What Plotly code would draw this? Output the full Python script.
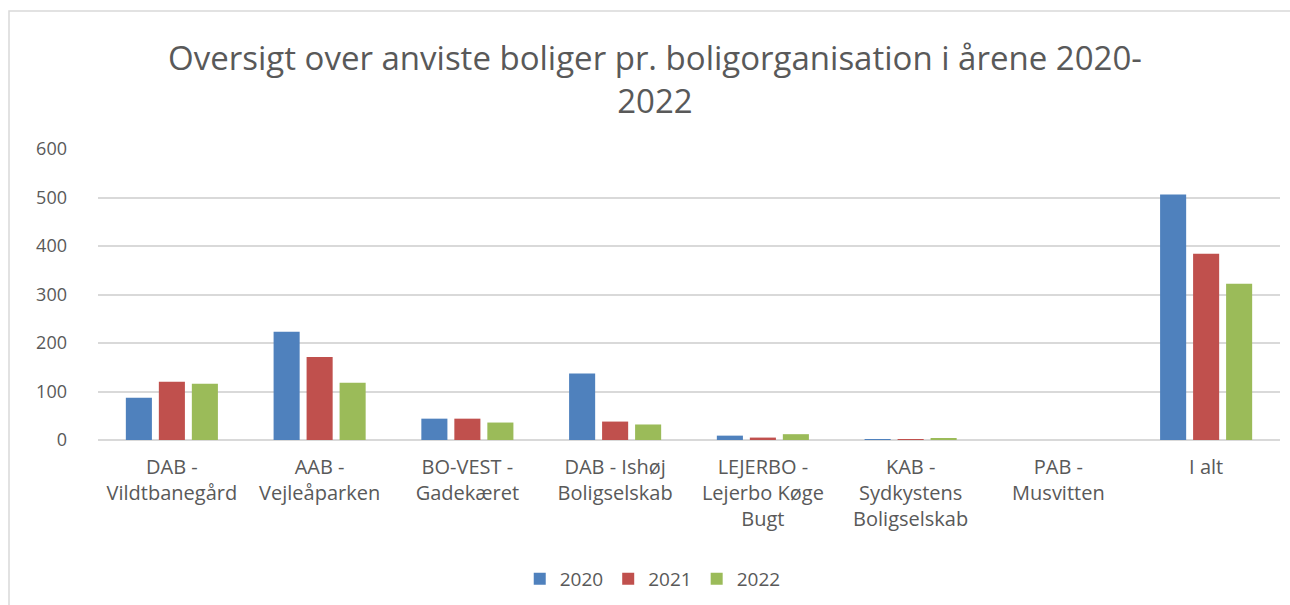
import plotly.graph_objects as go

categories = [
    "DAB -<br>Vildtbanegård",
    "AAB -<br>Vejleåparken",
    "BO-VEST -<br>Gadekæret",
    "DAB - Ishøj<br>Boligselskab",
    "LEJERBO -<br>Lejerbo Køge<br>Bugt",
    "KAB -<br>Sydkystens<br>Boligselskab",
    "PAB -<br>Musvitten",
    "I alt",
]
values_2020 = [87, 223, 44, 137, 9, 2, 0, 506]
values_2021 = [120, 171, 44, 38, 5, 2, 0, 384]
values_2022 = [116, 118, 36, 32, 12, 4, 0, 322]
series_names = ["2020", "2021", "2022"]
colors = ["#4F81BD", "#C0504D", "#9BBB59"]
y_ticks = [0, 100, 200, 300, 400, 500, 600]

FONT = "Open Sans"
GRAY = "#595959"

W, H = 1290, 605
L, R, T, B = 98, 10, 149, 165

fig = go.Figure()
for name, vals, col in zip(series_names, [values_2020, values_2021, values_2022], colors):
    fig.add_trace(go.Bar(x=categories, y=vals, name=name, marker=dict(color=col, line=dict(width=0))))

pw = W - L - R
ph = H - T - B
fig.update_layout(
    width=W, height=H,
    margin=dict(l=L, r=R, t=T, b=B, autoexpand=False),
    paper_bgcolor="white", plot_bgcolor="white",
    barmode="group", bargap=0.33, bargroupgap=0.21,
    font=dict(family=FONT, color=GRAY),
    title=dict(
        text="Oversigt over anviste boliger pr. boligorganisation i årene 2020-<br>2022",
        x=655 / W, xanchor="center", xref="container",
        y=1 - 70 / H, yanchor="middle", yref="container",
        font=dict(family=FONT, size=33, color=GRAY),
    ),
    legend=dict(
        orientation="h", x=0.506, xanchor="center", xref="container",
        y=1 - 579 / H, yanchor="middle", yref="container",
        font=dict(family=FONT, size=19, color=GRAY),
        itemwidth=30, traceorder="normal",
    ),
    showlegend=True,
)
fig.update_yaxes(
    range=[0, 600], tickvals=y_ticks, showgrid=True, gridcolor="#D9D9D9", gridwidth=1.5,
    zeroline=True, zerolinecolor="#D9D9D9", zerolinewidth=1.5, showline=False,
    tickfont=dict(family=FONT, size=18, color=GRAY), ticklabelstandoff=30,
    fixedrange=True,
)
fig.update_xaxes(
    showgrid=False, showline=False, ticks="",
    tickfont=dict(family=FONT, size=20, color=GRAY), tickangle=0, ticklabelstandoff=13,
)
# chart area border (left and top edges visible)
fig.add_shape(type="rect", xref="paper", yref="paper",
              x0=(9 - L) / pw, x1=(W + 20 - L) / pw,
              y0=(H - B - (H + 20)) / ph, y1=(H - B - 11) / ph,
              line=dict(color="#D9D9D9", width=1.5), fillcolor="rgba(0,0,0,0)", layer="below")

fig.write_html("out.html", config={"displayModeBar": False},
               post_script="document.body.style.margin='0';document.body.style.overflow='hidden';")
